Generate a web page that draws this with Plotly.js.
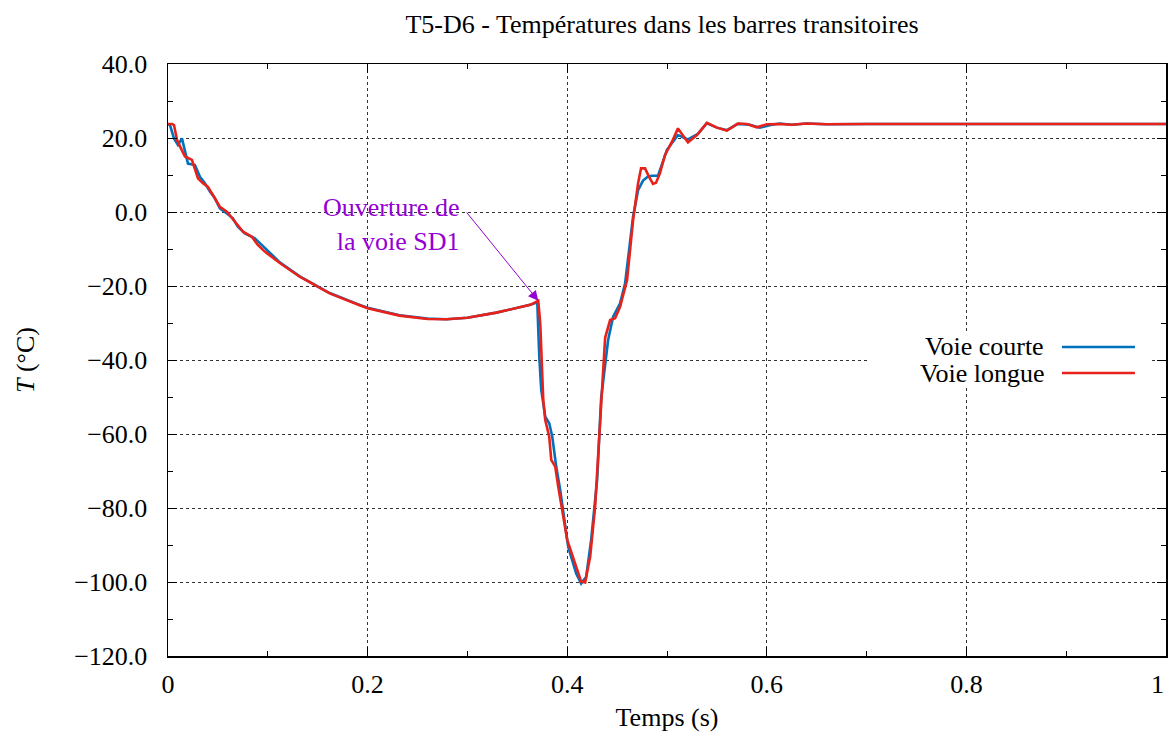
<!DOCTYPE html>
<html>
<head>
<meta charset="utf-8">
<script src="https://cdn.plot.ly/plotly-3.0.1.min.js"></script>
<style>html,body{margin:0;padding:0;background:#fff;}#chart{width:1169px;height:736px;}</style>
</head>
<body>
<div id="chart"></div>
<script>
// ---- data ----
const seriesNames = ["Voie courte", "Voie longue"];
const tCourte = [0, 0.002, 0.006, 0.010, 0.014, 0.017, 0.020, 0.027, 0.032, 0.037, 0.042, 0.047, 0.052, 0.059, 0.065, 0.070, 0.077, 0.087, 0.097, 0.112, 0.132, 0.162, 0.192, 0.20, 0.232, 0.26, 0.279, 0.30, 0.329, 0.350, 0.363, 0.370, 0.372, 0.374, 0.378, 0.382, 0.385, 0.389, 0.393, 0.401, 0.409, 0.414, 0.419, 0.424, 0.430, 0.434, 0.441, 0.446, 0.453, 0.458, 0.466, 0.471, 0.476, 0.481, 0.485, 0.491, 0.500, 0.511, 0.521, 0.531, 0.540, 0.550, 0.560, 0.571, 0.583, 0.593, 0.605, 0.613, 0.625, 0.64, 0.66, 0.7, 0.75, 0.8, 0.9, 1.0];
const TCourte = [23.8, 23.5, 19.9, 18.1, 19.9, 16.3, 13.1, 12.7, 9.5, 7.8, 5.5, 3.7, 1.0, -0.4, -1.7, -4.0, -5.8, -7.1, -9.8, -13.6, -17.4, -21.9, -25.1, -25.9, -27.9, -28.8, -29.0, -28.6, -27.2, -26.0, -25.1, -24.4, -39.1, -48.1, -55.3, -57.1, -60.7, -68.8, -75.1, -90.5, -97.7, -100.4, -98.6, -88.6, -72.4, -50.4, -34.6, -28.3, -24.7, -19.3, -1.3, 5.9, 8.5, 9.6, 9.8, 9.8, 16.8, 20.8, 19.6, 21.1, 24.0, 22.8, 22.1, 23.8, 23.6, 22.8, 23.6, 23.9, 23.6, 23.9, 23.7, 23.8, 23.8, 23.8, 23.8, 23.8];
const tLongue = [0, 0.004, 0.006, 0.009, 0.013, 0.017, 0.024, 0.030, 0.035, 0.040, 0.045, 0.052, 0.059, 0.067, 0.075, 0.084, 0.090, 0.097, 0.112, 0.132, 0.162, 0.192, 0.20, 0.232, 0.26, 0.279, 0.30, 0.329, 0.350, 0.363, 0.371, 0.373, 0.376, 0.378, 0.382, 0.384, 0.388, 0.391, 0.400, 0.408, 0.414, 0.418, 0.423, 0.428, 0.432, 0.435, 0.438, 0.443, 0.448, 0.453, 0.460, 0.466, 0.471, 0.474, 0.478, 0.482, 0.486, 0.489, 0.493, 0.498, 0.505, 0.511, 0.521, 0.530, 0.540, 0.550, 0.560, 0.571, 0.580, 0.590, 0.600, 0.613, 0.625, 0.64, 0.66, 0.7, 0.75, 0.8, 0.9, 1.0];
const TLongue = [23.8, 23.8, 23.5, 19.5, 17.2, 15.0, 14.1, 9.1, 7.8, 6.8, 4.6, 1.4, 0.1, -2.6, -5.3, -6.7, -8.9, -10.7, -13.8, -17.5, -22.0, -25.2, -26.0, -28.0, -28.9, -29.0, -28.6, -27.2, -26.0, -25.1, -24.0, -30.1, -50.8, -56.2, -60.7, -67.0, -68.8, -74.2, -88.6, -95.4, -99.9, -100.1, -93.2, -79.6, -60.0, -45.0, -34.0, -29.2, -28.7, -25.6, -18.4, -2.2, 7.7, 11.8, 11.8, 9.5, 7.6, 7.9, 10.5, 15.4, 19.0, 22.6, 18.8, 20.8, 24.1, 22.8, 22.0, 23.9, 23.8, 22.9, 23.7, 23.8, 23.6, 23.9, 23.7, 23.8, 23.8, 23.8, 23.8, 23.8];
const xTickVals = [0, 0.2, 0.4, 0.6, 0.8, 1];
const xTickText = ["0", "0.2", "0.4", "0.6", "0.8", ""];
const xLastTick = {value: 1, label: "1"};
const yTickVals = [40, 20, 0, -20, -40, -60, -80, -100, -120];
const annotText = "Ouverture de<br>la voie SD1";
const annotPoint = [0.371, -24.0];

const colors = ["#0072bd", "#e8221a"];
const FONT = "'Liberation Serif', 'Times New Roman', serif";
const FS = 26;

const traces = [
  {x: tCourte, y: TCourte, mode: "lines", name: seriesNames[0], line: {color: colors[0], width: 2.6}, showlegend: false},
  {x: tLongue, y: TLongue, mode: "lines", name: seriesNames[1], line: {color: colors[1], width: 2.6}, showlegend: false}
];

const axisCommon = {
  showline: true, linecolor: "#000", linewidth: 1.5, mirror: "allticks",
  ticks: "inside", ticklen: 9, tickwidth: 1, tickcolor: "#000",
  showgrid: true, gridcolor: "#333", gridwidth: 1, griddash: "dot",
  zeroline: false, tickfont: {family: FONT, size: FS, color: "#000"},
  ticklabeloverflow: "allow"
};

const layout = {
  width: 1169, height: 736,
  margin: {l: 168, r: 3, t: 64, b: 80},
  paper_bgcolor: "#fff", plot_bgcolor: "#fff",
  font: {family: FONT, color: "#000", size: FS},
  title: {text: "T5-D6 - Températures dans les barres transitoires", x: 662/1169, xref: "container", xanchor: "center", y: 1 - 24/736, yanchor: "middle", font: {family: FONT, size: FS, color: "#000"}},
  xaxis: Object.assign({}, axisCommon, {
    range: [0, 1], tickvals: xTickVals, ticktext: xTickText, ticklabelstandoff: 4,
    minor: {dtick: 0.1, ticks: "inside", ticklen: 5, tickcolor: "#000", showgrid: false},
    title: {text: "Temps (s)", standoff: 10, font: {family: FONT, size: FS, color: "#000"}}
  }),
  yaxis: Object.assign({}, axisCommon, {
    range: [-120, 40], tickvals: yTickVals, tickformat: ".1f", ticklabelstandoff: 14,
    minor: {dtick: 10, ticks: "inside", ticklen: 5, tickcolor: "#000", showgrid: false},
    title: {text: "<i>T</i> (°C)", standoff: 32, font: {family: FONT, size: FS, color: "#000"}}
  }),
  shapes: [
    {type: "rect", xref: "paper", yref: "paper", x0: 0.7034, x1: 0.984, y0: 0.456, y1: 0.547, fillcolor: "#fff", line: {width: 0}, layer: "above"},
    {type: "line", xref: "paper", yref: "paper", x0: 0.8958, x1: 0.9689, y0: 0.522, y1: 0.522, line: {color: colors[0], width: 2.6}, layer: "above"},
    {type: "line", xref: "paper", yref: "paper", x0: 0.8958, x1: 0.9689, y0: 0.478, y1: 0.478, line: {color: colors[1], width: 2.6}, layer: "above"}
  ],
  annotations: [
    {xref: "paper", yref: "paper", x: 0.8798, y: 0.522, xanchor: "right", yanchor: "middle", text: seriesNames[0], showarrow: false, font: {family: FONT, size: FS, color: "#000"}},
    {xref: "paper", yref: "paper", x: 0.8798, y: 0.478, xanchor: "right", yanchor: "middle", text: seriesNames[1], showarrow: false, font: {family: FONT, size: FS, color: "#000"}},
    {xref: "x", yref: "paper", x: xLastTick.value, y: -0.0473, xanchor: "right", yanchor: "middle", text: xLastTick.label, showarrow: false, font: {family: FONT, size: FS, color: "#000"}},
    {x: 0.294, y: -3.4, xanchor: "right", yanchor: "middle", align: "right", text: annotText, showarrow: false, font: {family: FONT, size: FS, color: "#9400d3"}},
    {x: annotPoint[0], y: annotPoint[1], ax: 0.298, ay: 0.3, axref: "x", ayref: "y", text: "", showarrow: true, arrowhead: 2, arrowsize: 2, arrowwidth: 1, arrowcolor: "#9400d3"}
  ]
};

Plotly.newPlot("chart", traces, layout, {displayModeBar: false, staticPlot: true});
</script>
</body>
</html>
